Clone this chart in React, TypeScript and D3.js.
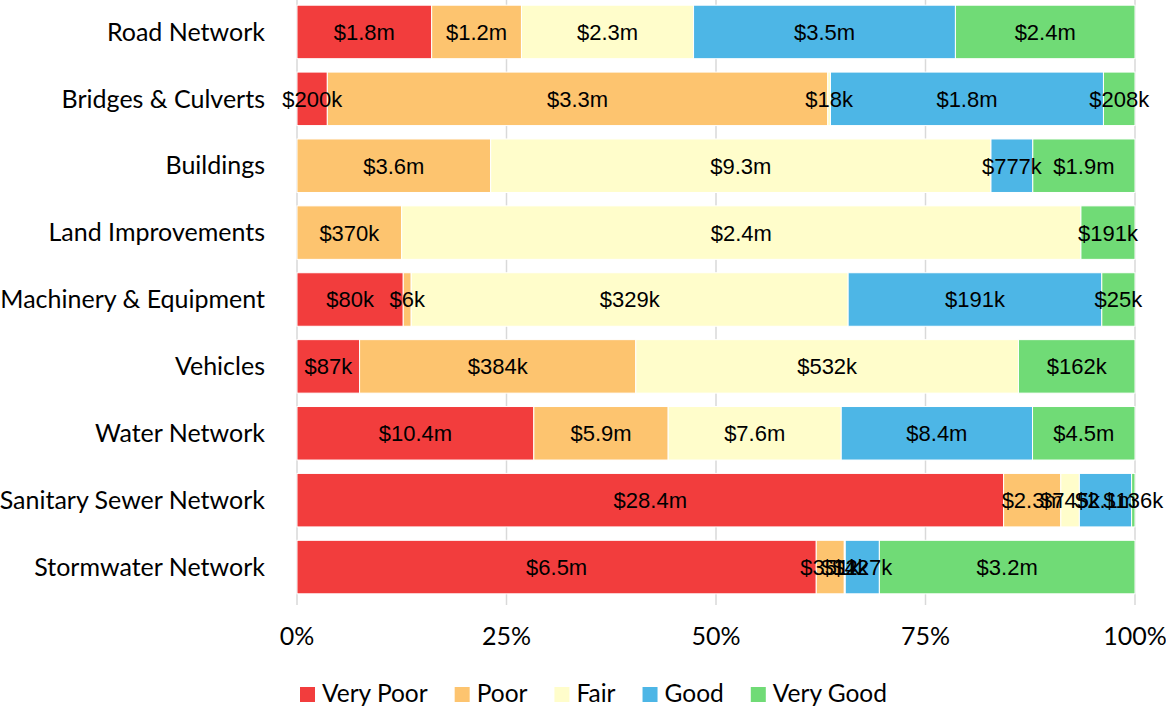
import React, { useEffect, useRef } from "react";
import * as d3 from "d3";

// asset categories, top to bottom
const categories = [
  "Road Network",
  "Bridges & Culverts",
  "Buildings",
  "Land Improvements",
  "Machinery & Equipment",
  "Vehicles",
  "Water Network",
  "Sanitary Sewer Network",
  "Stormwater Network",
];

const conditions = ["Very Poor", "Poor", "Fair", "Good", "Very Good"];
const colors = ["#F23D3D", "#FDC46F", "#FFFDCB", "#4DB6E6", "#70DB76"];

// replacement values in $ thousands, per condition
const veryPoor = [1800, 200, 0, 0, 80, 87, 10400, 28400, 6500];
const poor = [1200, 3300, 3600, 370, 6, 384, 5900, 2300, 351];
const fair = [2300, 18, 9300, 2400, 329, 532, 7600, 745, 12];
const good = [3500, 1800, 777, 0, 191, 0, 8400, 2100, 427];
const veryGood = [2400, 208, 1900, 191, 25, 162, 4500, 136, 3200];

const ticks = [0, 0.25, 0.5, 0.75, 1];

const fmt = (v: number) =>
  v >= 1000 ? `$${(v / 1000).toFixed(1)}m` : `$${Math.round(v)}k`;

const labelFont = "Lato, 'Open Sans', sans-serif";

export default function App() {
  const ref = useRef<SVGSVGElement>(null);

  useEffect(() => {
    const W = 1166,
      H = 709;
    const svg = d3.select(ref.current).attr("width", W).attr("height", H);
    svg.selectAll("*").remove();

    const series = [veryPoor, poor, fair, good, veryGood];
    const rows = categories.map((c, i) => {
      const vals = series.map((s) => s[i]);
      const total = d3.sum(vals);
      let acc = 0;
      return vals.map((v, k) => {
        const seg = { cat: c, k, v, x0: acc / total, x1: (acc + v) / total };
        acc += v;
        return seg;
      });
    });

    const x = d3.scaleLinear().domain([0, 1]).range([297, 1135]);
    const y = d3
      .scaleBand()
      .domain(categories)
      .range([-1.5, 600.5])
      .paddingInner(0.2)
      .paddingOuter(0.1);

    // gridlines
    svg
      .selectAll(".grid")
      .data(ticks)
      .join("line")
      .attr("x1", (d) => x(d))
      .attr("x2", (d) => x(d))
      .attr("y1", 0)
      .attr("y2", 605)
      .attr("stroke", "#d9d9d9")
      .attr("stroke-width", 1.5);

    // tick labels
    svg
      .selectAll(".tick")
      .data(ticks)
      .join("text")
      .attr("x", (d) => x(d))
      .attr("y", 645)
      .attr("text-anchor", "middle")
      .style("font-family", labelFont)
      .style("font-size", "25px")
      .text((d) => `${d * 100}%`);

    // category labels
    svg
      .selectAll(".cat")
      .data(categories)
      .join("text")
      .attr("x", 265)
      .attr("y", (d) => y(d)! + y.bandwidth() / 2)
      .attr("dy", "0.35em")
      .attr("text-anchor", "end")
      .style("font-family", labelFont)
      .style("font-size", "25px")
      .text((d) => d);

    const segs = rows.flat();

    // bars
    svg
      .selectAll(".bar")
      .data(segs.filter((d) => d.v > 0))
      .join("rect")
      .attr("x", (d) => x(d.x0))
      .attr("width", (d) => x(d.x1) - x(d.x0))
      .attr("y", (d) => y(d.cat)!)
      .attr("height", y.bandwidth())
      .attr("fill", (d) => colors[d.k])
      .attr("stroke", "#fff")
      .attr("stroke-width", 1);

    // value labels
    svg
      .selectAll(".lbl")
      .data(segs.filter((d) => d.v > 0))
      .join("text")
      .attr("x", (d) => (x(d.x0) + x(d.x1)) / 2)
      .attr("y", (d) => y(d.cat)! + y.bandwidth() / 2)
      .attr("dy", "0.36em")
      .attr("text-anchor", "middle")
      .style("font-family", "'Liberation Sans', Arial, sans-serif")
      .style("font-size", "22px")
      .attr("fill", "#000")
      .text((d) => fmt(d.v));

    // legend
    const lg = svg.append("g");
    let lx = 0;
    conditions.forEach((c, i) => {
      lg.append("rect")
        .attr("x", lx)
        .attr("y", 687)
        .attr("width", 15)
        .attr("height", 15)
        .attr("fill", colors[i]);
      const t = lg
        .append("text")
        .attr("x", lx + 22)
        .attr("y", 702)
        .style("font-family", labelFont)
        .style("font-size", "24.5px")
        .text(c);
      const w = (t.node() as SVGTextElement).getComputedTextLength();
      lx += 22 + w + 27;
    });
    lg.attr("transform", `translate(${300},0)`);
  }, []);

  return (
    <svg
      ref={ref}
      style={{ position: "absolute", left: 0, top: 0, background: "#fff" }}
    />
  );
}
